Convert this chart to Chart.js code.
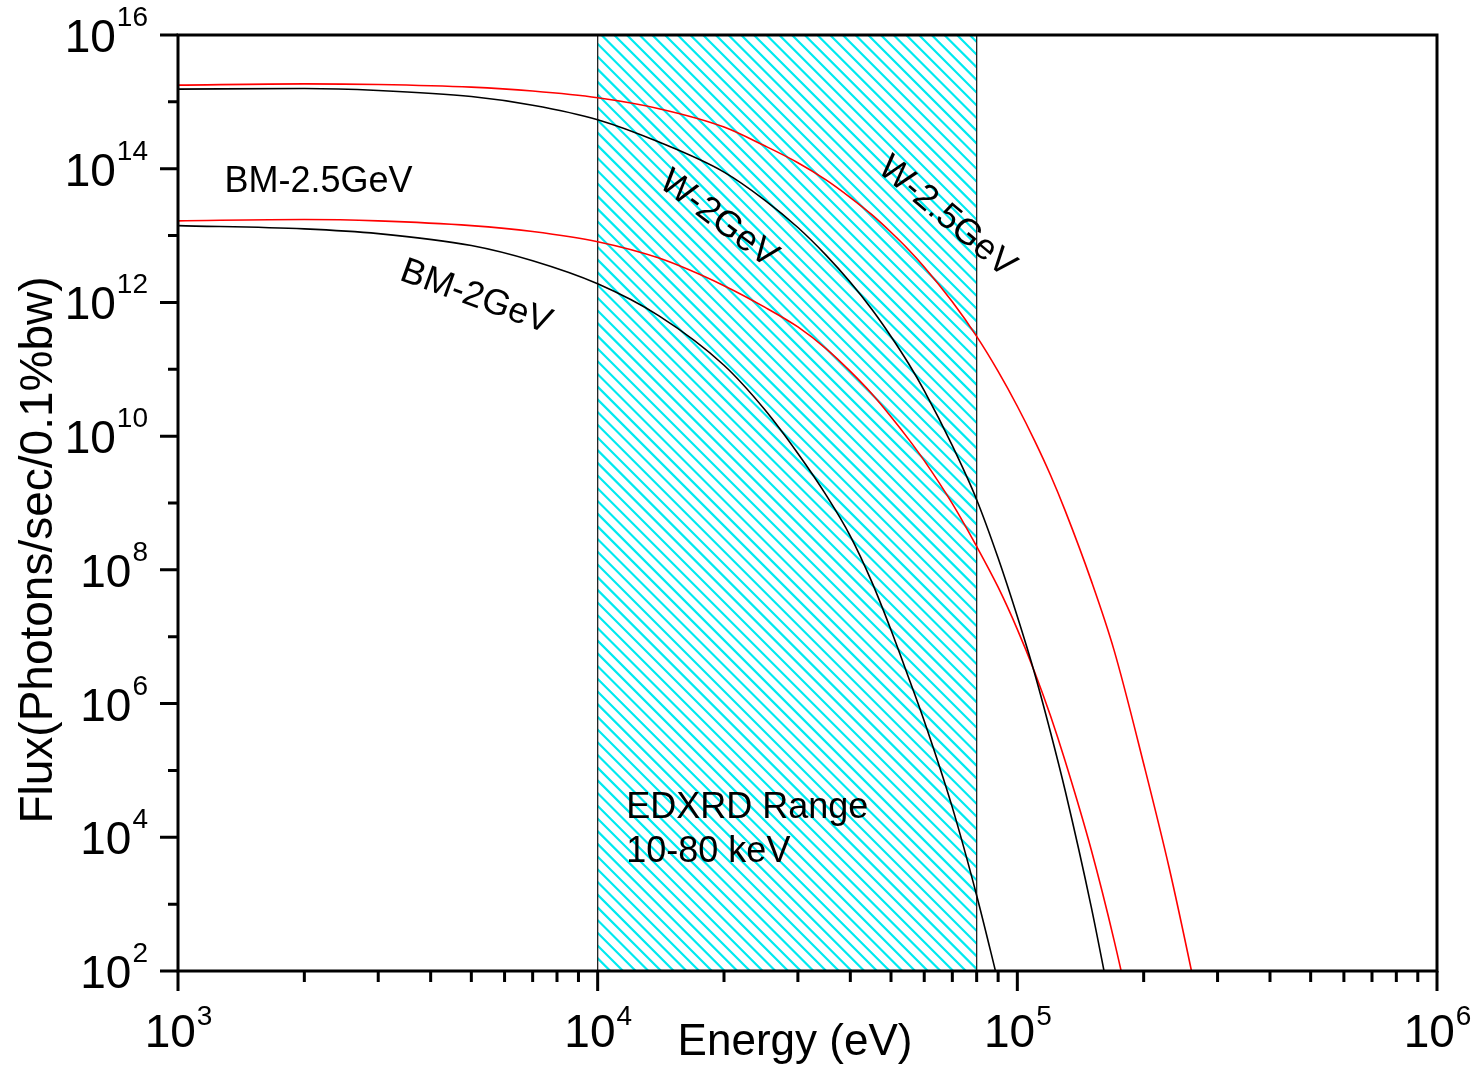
<!DOCTYPE html>
<html>
<head>
<meta charset="utf-8">
<title>Synchrotron flux vs energy</title>
<script src="https://cdn.jsdelivr.net/npm/chart.js@4.4.1/dist/chart.umd.min.js"></script>
<style>
  html, body { margin: 0; padding: 0; background: #fff; }
  #wrap { position: relative; width: 1475px; height: 1066px; }
</style>
</head>
<body>
<div id="wrap"><canvas id="fluxChart"></canvas></div>
<script>
// photon energy (eV) shared by all curves
const energies = [1e3, 2e3, 3e3, 5e3, 7e3, 1e4, 1.4e4, 2e4, 2.5e4, 3e4, 3.5e4, 4e4, 4.5e4, 5e4, 5.5e4,
  6e4, 7e4, 8e4, 9e4, 1e5, 1.1e5, 1.2e5, 1.3e5, 1.5e5, 1.7e5, 2e5, 2.3e5, 2.6e5, 2.8e5];

// flux in photons/sec/0.1%bw (null = below the plotted range)
const fluxW25 = [1.78e15, 1.86e15, 1.82e15, 1.66e15, 1.45e15, 1.15e15, 7.9e14, 4.2e14, 2.2e14, 1.23e14,
  6.8e13, 3.7e13, 2.05e13, 1.12e13, 6.2e12, 3.4e12, 1.02e12, 3.1e11, 9.3e10, 2.8e10, 8.5e9, 2.6e9, 7.7e8,
  6.9e7, 6.3e6, 1.26e5, 3.5e3, 100, 10];
const fluxW2 = [1.55e15, 1.585e15, 1.48e15, 1.2e15, 8.9e14, 5.4e14, 2.5e14, 8.9e13, 3.4e13, 1.32e13,
  5.1e12, 2.0e12, 7.9e11, 3.1e11, 1.23e11, 4.8e10, 7.2e9, 1.12e9, 1.5e8, 2.0e7, 2.8e6, 3.7e5, 5.0e4,
  910, 17, null, null, null, null];
const fluxBM25 = [1.66e13, 1.74e13, 1.66e13, 1.41e13, 1.15e13, 8.1e12, 4.6e12, 1.78e12, 8.5e11, 4.3e11,
  2.04e11, 9.3e10, 4.3e10, 1.95e10, 9.1e9, 4.3e9, 9.8e8, 2.24e8, 5.5e7, 1.29e7, 2.95e6, 6.5e5, 1.38e5,
  6.5e3, 290, 3, null, null, null];
const fluxBM2 = [1.41e13, 1.26e13, 1.07e13, 7.1e12, 4.2e12, 1.9e12, 6.3e11, 1.15e11, 2.5e10, 5.5e9,
  1.32e9, 3.2e8, 6.6e7, 1.26e7, 2.5e6, 5.5e5, 2.8e4, 1.35e3, 69, null, null, null, null, null, null,
  null, null, null, null];

const seriesNames = ['W-2.5GeV', 'W-2GeV', 'BM-2.5GeV', 'BM-2GeV'];

// axis decades and the exponents printed on them
const xDecades = [1e3, 1e4, 1e5, 1e6];
const xTickExps = ['3', '4', '5', '6'];
const yDecades = [1e2, 1e4, 1e6, 1e8, 1e10, 1e12, 1e14, 1e16];
const yTickExps = ['2', '4', '6', '8', '10', '12', '14', '16'];
const yMinorDecades = [1e3, 1e5, 1e7, 1e9, 1e11, 1e13, 1e15];

// EDXRD window in eV
const edxrdRange = [1e4, 8e4];

const FONT = '"Liberation Sans", Arial, Helvetica, sans-serif';

function toPoints(values) {
  return energies.map((e, i) => ({ x: e, y: values[i] }));
}

// hatched EDXRD band behind the curves
const hatchBand = {
  id: 'hatchBand',
  beforeDatasetsDraw(chart) {
    const { ctx, chartArea, scales } = chart;
    const left = scales.x.getPixelForValue(edxrdRange[0]);
    const right = scales.x.getPixelForValue(edxrdRange[1]);
    const top = chartArea.top, bottom = chartArea.bottom;
    const h = bottom - top;
    ctx.save();
    ctx.beginPath();
    ctx.rect(left, top, right - left, h);
    ctx.clip();
    ctx.strokeStyle = '#00eaf0';
    ctx.lineWidth = 2.2;
    ctx.beginPath();
    for (let s = left - h; s < right + 13; s += 12.7) {
      ctx.moveTo(s, top);
      ctx.lineTo(s + h, bottom);
    }
    ctx.stroke();
    ctx.restore();
    ctx.save();
    ctx.strokeStyle = '#222';
    ctx.lineWidth = 1.3;
    ctx.beginPath();
    ctx.moveTo(left, top); ctx.lineTo(left, bottom);
    ctx.moveTo(right, top); ctx.lineTo(right, bottom);
    ctx.stroke();
    ctx.restore();
  }
};

function drawPower(ctx, exp, x, y, align, baseSize, supSize, supRise) {
  ctx.font = baseSize + 'px ' + FONT;
  const wb = ctx.measureText('10').width;
  ctx.font = supSize + 'px ' + FONT;
  const ws = ctx.measureText(exp).width;
  let x0 = x;
  if (align === 'right') x0 = x - wb - ws;
  if (align === 'center') x0 = x - (wb + ws) / 2;
  ctx.textAlign = 'left';
  ctx.textBaseline = 'alphabetic';
  ctx.font = baseSize + 'px ' + FONT;
  ctx.fillText('10', x0, y);
  ctx.font = supSize + 'px ' + FONT;
  ctx.fillText(exp, x0 + wb + 1, y - supRise);
}

// frame, ticks, tick labels, axis titles and curve labels
const frameAndText = {
  id: 'frameAndText',
  afterDatasetsDraw(chart) {
    const { ctx, chartArea, scales } = chart;
    const xs = scales.x, ys = scales.y;
    const { left, right, top, bottom } = chartArea;
    ctx.save();
    ctx.fillStyle = '#000';
    ctx.strokeStyle = '#000';

    // curve labels
    ctx.font = '36px ' + FONT;
    ctx.textAlign = 'left';
    ctx.textBaseline = 'alphabetic';
    ctx.fillText(seriesNames[2], xs.getPixelForValue(1290), ys.getPixelForValue(4.5e13));
    ctx.fillText('EDXRD Range', xs.getPixelForValue(11700), ys.getPixelForValue(1.95e4));
    ctx.fillText('10-80 keV', xs.getPixelForValue(11700), ys.getPixelForValue(4.2e3));
    const rotated = [
      [seriesNames[3], 5130, 1.2e12, 20],
      [seriesNames[1], 19400, 1.76e13, 37],
      [seriesNames[0], 67900, 1.9e13, 40]
    ];
    rotated.forEach(([text, e, f, deg]) => {
      ctx.save();
      ctx.translate(xs.getPixelForValue(e), ys.getPixelForValue(f));
      ctx.rotate(deg * Math.PI / 180);
      ctx.textAlign = 'center';
      ctx.textBaseline = 'middle';
      ctx.fillText(text, 0, 0);
      ctx.restore();
    });

    // axes box
    ctx.lineWidth = 3;
    ctx.strokeRect(left, top, right - left, bottom - top);

    // x ticks: decades long, 2..9 short
    ctx.beginPath();
    xDecades.forEach((d, i) => {
      const px = xs.getPixelForValue(d);
      ctx.moveTo(px, bottom); ctx.lineTo(px, bottom + 20);
      if (i < xDecades.length - 1) {
        for (let m = 2; m <= 9; m++) {
          const pm = xs.getPixelForValue(d * m);
          ctx.moveTo(pm, bottom); ctx.lineTo(pm, bottom + 11);
        }
      }
    });
    // y ticks
    yDecades.forEach(d => {
      const py = ys.getPixelForValue(d);
      ctx.moveTo(left, py); ctx.lineTo(left - 18, py);
    });
    yMinorDecades.forEach(d => {
      const py = ys.getPixelForValue(d);
      ctx.moveTo(left, py); ctx.lineTo(left - 10, py);
    });
    ctx.stroke();

    // tick labels
    xDecades.forEach((d, i) => {
      drawPower(ctx, xTickExps[i], xs.getPixelForValue(d), bottom + 76, 'center', 46, 28, 22);
    });
    yDecades.forEach((d, i) => {
      drawPower(ctx, yTickExps[i], left - 31, ys.getPixelForValue(d) + 17, 'right', 46, 28, 26);
    });

    // axis titles
    ctx.font = '44px ' + FONT;
    ctx.textAlign = 'center';
    ctx.textBaseline = 'alphabetic';
    ctx.fillText('Energy (eV)', 795, bottom + 84);
    ctx.save();
    ctx.translate(52, 550);
    ctx.rotate(-Math.PI / 2);
    ctx.font = '46px ' + FONT;
    ctx.fillText('Flux(Photons/sec/0.1%bw)', 0, 0);
    ctx.restore();

    ctx.restore();
  }
};

const lineStyle = {
  borderWidth: 1.6,
  pointRadius: 0,
  fill: false,
  cubicInterpolationMode: 'monotone'
};

new Chart(document.getElementById('fluxChart'), {
  type: 'line',
  data: {
    datasets: [
      { label: seriesNames[0], data: toPoints(fluxW25), borderColor: '#ff0000', ...lineStyle },
      { label: seriesNames[1], data: toPoints(fluxW2), borderColor: '#000000', ...lineStyle },
      { label: seriesNames[2], data: toPoints(fluxBM25), borderColor: '#ff0000', ...lineStyle },
      { label: seriesNames[3], data: toPoints(fluxBM2), borderColor: '#000000', ...lineStyle }
    ]
  },
  options: {
    responsive: true,
    maintainAspectRatio: false,
    animation: false,
    layout: { padding: { left: 178, right: 38, top: 35, bottom: 95 } },
    plugins: { legend: { display: false }, tooltip: { enabled: false } },
    scales: {
      x: { type: 'logarithmic', min: 1e3, max: 1e6, display: false },
      y: { type: 'logarithmic', min: 1e2, max: 1e16, display: false }
    }
  },
  plugins: [hatchBand, frameAndText]
});
</script>
</body>
</html>
